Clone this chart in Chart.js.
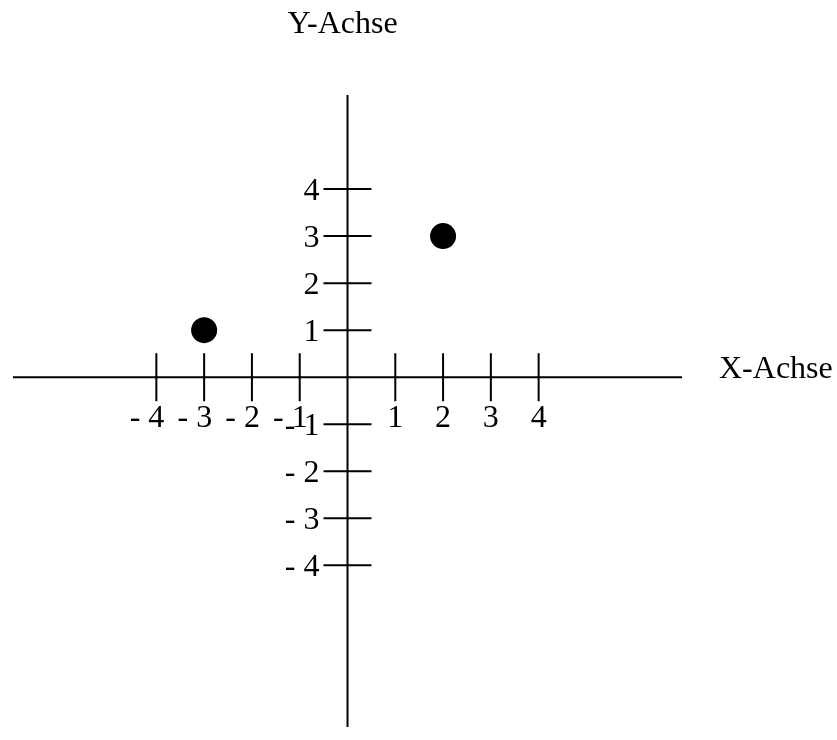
<!DOCTYPE html>
<html>
<head>
<meta charset="utf-8">
<script src="https://cdn.jsdelivr.net/npm/chart.js@4/dist/chart.umd.min.js"></script>
<style>
  html, body { margin: 0; padding: 0; background: #fff; overflow: hidden; }
  canvas { display: block; }
</style>
</head>
<body>
<canvas id="koordinaten" width="837" height="740"></canvas>
<script>
  // Daten
  const pointX = [-3, 2];
  const pointY = [1, 3];
  const xTickValues = [-4, -3, -2, -1, 1, 2, 3, 4];
  const xTickLabels = ['- 4', '- 3', '- 2', '- 1', '1', '2', '3', '4'];
  const yTickValues = [4, 3, 2, 1, -1, -2, -3, -4];
  const yTickLabels = ['4', '3', '2', '1', '- 1', '- 2', '- 3', '- 4'];
  const xAxisTitle = 'X-Achse';
  const yAxisTitle = 'Y-Achse';

  const FONT = '32px "Liberation Serif", "Times New Roman", serif';
  const TICK = 24;

  // Achsenkreuz mit Strichen und Beschriftung
  const achsenKreuz = {
    id: 'achsenKreuz',
    beforeDatasetsDraw(chart) {
      const ctx = chart.ctx;
      const xs = chart.scales.x;
      const ys = chart.scales.y;
      const area = chart.chartArea;
      const x0 = xs.getPixelForValue(0);
      const y0 = ys.getPixelForValue(0);

      ctx.save();
      ctx.strokeStyle = '#000';
      ctx.lineWidth = 2;
      ctx.beginPath();
      ctx.moveTo(area.left, y0);
      ctx.lineTo(area.right, y0);
      ctx.moveTo(x0, area.top);
      ctx.lineTo(x0, area.bottom);
      xTickValues.forEach(function (v) {
        const px = xs.getPixelForValue(v);
        ctx.moveTo(px, y0 - TICK);
        ctx.lineTo(px, y0 + TICK);
      });
      yTickValues.forEach(function (v) {
        const py = ys.getPixelForValue(v);
        ctx.moveTo(x0 - TICK, py);
        ctx.lineTo(x0 + TICK, py);
      });
      ctx.stroke();

      ctx.fillStyle = '#000';
      ctx.font = FONT;
      ctx.textBaseline = 'alphabetic';

      // x-Beschriftung: Ziffer mittig unter dem Strich
      ctx.textAlign = 'right';
      xTickValues.forEach(function (v, i) {
        const px = xs.getPixelForValue(v);
        ctx.fillText(xTickLabels[i], px + 8, y0 + 50);
      });

      // y-Beschriftung: links vom Strich
      yTickValues.forEach(function (v, i) {
        const py = ys.getPixelForValue(v);
        ctx.fillText(yTickLabels[i], x0 - TICK - 4, py + 11);
      });

      // Achsentitel
      ctx.textAlign = 'center';
      ctx.fillText(yAxisTitle, x0 - 5, area.top - 62);
      ctx.textAlign = 'left';
      ctx.fillText(xAxisTitle, area.right + 37, y0 + 1);
      ctx.restore();
    }
  };

  new Chart(document.getElementById('koordinaten'), {
    type: 'scatter',
    data: {
      datasets: [{
        data: pointX.map(function (x, i) { return { x: x, y: pointY[i] }; }),
        backgroundColor: '#000',
        borderWidth: 0,
        pointRadius: 13,
        pointHoverRadius: 13
      }]
    },
    options: {
      responsive: false,
      animation: false,
      devicePixelRatio: 1,
      layout: {
        padding: { left: 10, right: 155, top: 95, bottom: 0 }
      },
      plugins: {
        legend: { display: false },
        tooltip: { enabled: false }
      },
      scales: {
        x: { type: 'linear', min: -7, max: 7, display: false },
        y: { type: 'linear', min: -7.4375, max: 6, display: false }
      }
    },
    plugins: [achsenKreuz]
  });
</script>
</body>
</html>
